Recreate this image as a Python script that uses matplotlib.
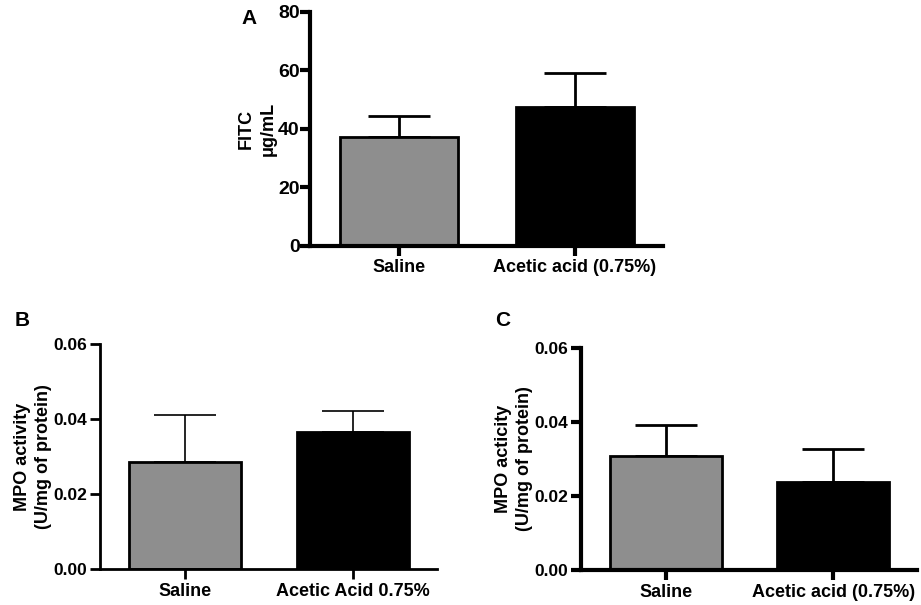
import matplotlib.pyplot as plt

plt.rcParams['font.family'] = ['Liberation Sans', 'DejaVu Sans']
plt.rcParams['font.weight'] = 'bold'

W, H = 921, 605

# Panel A - FITC
a_labels = ["Saline", "Acetic acid (0.75%)"]
a_means = [37.2, 47.4]
a_errs = [7.3, 11.8]
a_ticks = [0, 20, 40, 60, 80]

# Panel B - MPO activity
b_labels = ["Saline", "Acetic Acid 0.75%"]
b_means = [0.0285, 0.0366]
b_errs = [0.0127, 0.0055]
b_ticks = [0.00, 0.02, 0.04, 0.06]

# Panel C - MPO acticity
c_labels = ["Saline", "Acetic acid (0.75%)"]
c_means = [0.0308, 0.0237]
c_errs = [0.0084, 0.0090]
c_ticks = [0.00, 0.02, 0.04, 0.06]

colors = ["#8e8e8e", "#000000"]

fig = plt.figure(figsize=(W / 100, H / 100), dpi=100)


def panel(box, labels, means, errs, ticks, ylabel, letter, letter_xy, fmt,
          lw, elw, tsize, tpad, lpad):
    x0, x1, ytop, ybot = box
    ax = fig.add_axes([x0 / W, (H - ybot) / H, (x1 - x0) / W, (ybot - ytop) / H])
    xs = range(len(means))
    ax.bar(xs, means, width=0.67, color=colors, edgecolor="black", linewidth=2, zorder=2)
    ax.errorbar(xs, means, yerr=[[0] * len(errs), errs], fmt="none", ecolor="black",
                elinewidth=elw, capsize=22, capthick=elw, zorder=1)
    ax.set_xlim(-0.506, 1.5)
    ax.set_ylim(ticks[0], ticks[-1])
    ax.set_yticks(ticks)
    ax.set_yticklabels([fmt.format(t) for t in ticks])
    ax.set_xticks(list(xs))
    ax.set_xticklabels(labels)
    for s in ["top", "right"]:
        ax.spines[s].set_visible(False)
    for s in ["left", "bottom"]:
        ax.spines[s].set_linewidth(lw)
    ax.tick_params(width=lw, length=7, labelsize=tsize, pad=tpad)
    ax.tick_params(axis="x", labelsize=13, pad=3)
    ax.set_ylabel(ylabel, fontsize=13, fontweight="bold", linespacing=1.35, labelpad=lpad)
    fig.text(letter_xy[0] / W, 1 - letter_xy[1] / H, letter, fontsize=15,
             fontweight="bold", ha="center", va="center")
    return ax


panel((310, 663, 12, 245.6), a_labels, a_means, a_errs, a_ticks,
      "FITC\nμg/mL", "A", (249, 18), "{:.0f}", 3, 2, 14, 0.5, 1)
panel((100, 437, 344.3, 569.3), b_labels, b_means, b_errs, b_ticks,
      "MPO activity\n(U/mg of protein)", "B", (22, 320), "{:.2f}", 2, 1.2, 12.5, 2, 1)
panel((581, 917, 347.7, 570), c_labels, c_means, c_errs, c_ticks,
      "MPO acticity\n(U/mg of protein)", "C", (503, 321), "{:.2f}", 3, 2, 12.5, 2, 1)

fig.savefig("out.png", dpi=100)
